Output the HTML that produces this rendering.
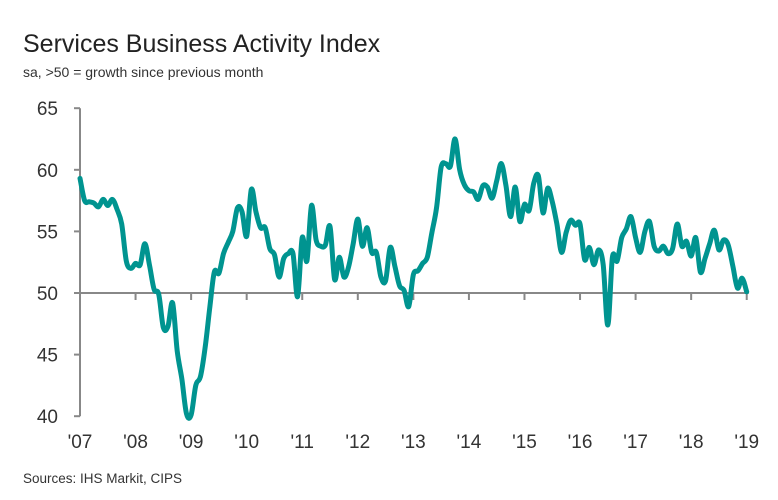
<!DOCTYPE html>
<html><head><meta charset="utf-8"><style>
body{margin:0;background:#fff;width:778px;height:495px;overflow:hidden;font-family:"Liberation Sans",sans-serif}
</style></head><body>
<svg width="778" height="495" xmlns="http://www.w3.org/2000/svg">
<text x="23" y="52" font-size="25" fill="#222" font-family="Liberation Sans">Services Business Activity Index</text>
<text x="23" y="77" font-size="14" fill="#333" font-family="Liberation Sans">sa, &gt;50 = growth since previous month</text>
<text x="23" y="483" font-size="13.5" fill="#333" font-family="Liberation Sans">Sources: IHS Markit, CIPS</text>
<g id="axes"></g>
<path id="line" fill="none" stroke="#009490" stroke-width="5" stroke-linejoin="round" stroke-linecap="round"/>
</svg>
<script>
const yTicks=[40,45,50,55,60,65];
const xLabels=["'07","'08","'09","'10","'11","'12","'13","'14","'15","'16","'17","'18","'19"];
const values2007=[59.3,57.5,57.4,57.3,57.0,57.6,57.1,57.6,56.8,55.6,52.6,52.0];
const values2008=[52.4,52.3,54.0,52.3,50.3,49.9,47.2,47.3,49.2,45.3,43.0,40.2];
const values2009=[40.1,42.5,43.2,45.5,48.7,51.7,51.6,53.2,54.1,55.0,56.9,56.6];
const values2010=[54.6,58.4,56.6,55.3,55.3,53.6,53.1,51.3,52.8,53.2,53.2,49.7];
const values2011=[54.5,52.6,57.1,54.3,53.8,53.9,55.4,51.1,52.9,51.3,52.1,54.0];
const values2012=[56.0,53.8,55.3,53.3,53.3,51.3,51.0,53.7,52.2,50.6,50.2,48.9];
const values2013=[51.5,51.8,52.4,52.9,54.9,56.9,60.2,60.5,60.3,62.5,60.0,58.8];
const values2014=[58.3,58.2,57.6,58.7,58.6,57.7,59.1,60.5,58.7,56.2,58.6,55.8];
const values2015=[57.2,56.7,58.9,59.5,56.5,58.5,57.4,55.6,53.3,54.9,55.9,55.5];
const values2016=[55.6,52.7,53.7,52.3,53.5,52.3,47.4,52.9,52.6,54.5,55.2,56.2];
const values2017=[54.5,53.3,55.0,55.8,53.8,53.4,53.8,53.2,53.6,55.6,53.8,54.2];
const values2018=[53.0,54.5,51.7,52.8,54.0,55.1,53.5,54.3,53.9,52.2,50.4,51.2];
const values2019=[50.1];
const values=[].concat(values2007,values2008,values2009,values2010,values2011,values2012,values2013,values2014,values2015,values2016,values2017,values2018,values2019);
const X0=80,MONTH=4.63;
function xs(i){return X0+i*MONTH;}
function ys(v){return 293-(v-50)*12.32;}
const NS="http://www.w3.org/2000/svg";
const g=document.getElementById('axes');
function mk(t,a){const e=document.createElementNS(NS,t);for(const k in a)e.setAttribute(k,a[k]);g.appendChild(e);return e;}
const yl=mk('line',{x1:X0,x2:X0,y1:ys(65),y2:ys(40),stroke:'#888','stroke-width':2});


const xl=mk('line',{x1:X0,x2:xs(144)+2,y1:ys(50),y2:ys(50),stroke:'#888','stroke-width':2});


yTicks.forEach(v=>{
  const t=mk('line',{x1:X0-6,x2:X0,y1:ys(v),y2:ys(v),stroke:'#888','stroke-width':2});
  
  
  const l=mk('text',{x:X0-22,y:ys(v)+7,'text-anchor':'end','font-size':19,fill:'#333','font-family':'Liberation Sans'});
  l.textContent=v;
  
  
});
xLabels.forEach((s,i)=>{
  const x=xs(i*12);
  if(i>0){const t=mk('line',{x1:x,x2:x,y1:ys(50),y2:ys(50)+7,stroke:'#888','stroke-width':2});
  
  }
  const l=mk('text',{x:x,y:448,'text-anchor':'middle','font-size':19,fill:'#333','font-family':'Liberation Sans'});
  l.textContent=s;
  
  
});
const P=values.map((v,i)=>[xs(i),ys(v)]);
let d='M'+P[0][0].toFixed(1)+','+P[0][1].toFixed(1);
for(let i=0;i<P.length-1;i++){
  const p0=P[Math.max(0,i-1)],p1=P[i],p2=P[i+1],p3=P[Math.min(P.length-1,i+2)];
  const c1=[p1[0]+(p2[0]-p0[0])/6,p1[1]+(p2[1]-p0[1])/6];
  const c2=[p2[0]-(p3[0]-p1[0])/6,p2[1]-(p3[1]-p1[1])/6];
  d+='C'+c1[0].toFixed(1)+','+c1[1].toFixed(1)+' '+c2[0].toFixed(1)+','+c2[1].toFixed(1)+' '+p2[0].toFixed(1)+','+p2[1].toFixed(1);
}
document.getElementById('line').setAttribute('d',d);
</script>
</body></html>
